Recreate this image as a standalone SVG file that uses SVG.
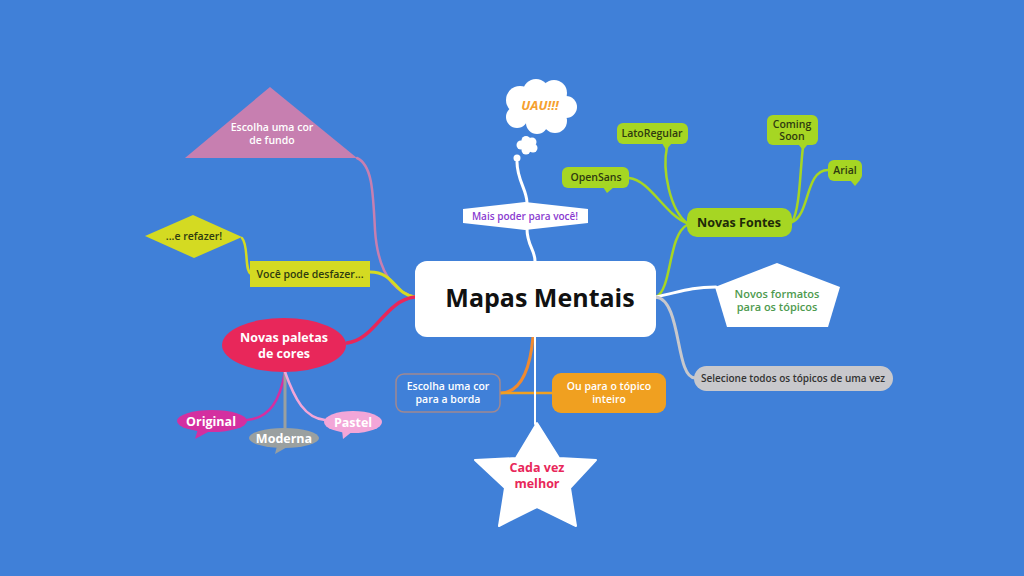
<svg xmlns="http://www.w3.org/2000/svg" width="1024" height="576" viewBox="0 0 1024 576">
<style>
text{font-family:"Open Sans","Noto Sans","Liberation Sans",sans-serif;text-anchor:middle}
.s{font-size:10.5px;font-weight:600}
.m{font-size:12.5px;font-weight:700}
.c{fill:none;stroke-linecap:round}
.g{fill:#a6d623}
.gl{stroke:#a6d623;stroke-width:2.5}
.dk{fill:#2e3a10}
</style>
<rect width="1024" height="576" fill="#4080d8"/>
<g id="connectors">
<path class="c" d="M357,158 C372,165 373,190 375,230 C378,275 395,292 415,297" stroke="#c77fb0" stroke-width="2.5"/>
<path class="c" d="M242,238 C249,246 244,270 251,274" stroke="#d4da22" stroke-width="2.5"/>
<path class="c" d="M370,272 C395,272 395,295 415,297" stroke="#d4da22" stroke-width="3"/>
<path class="c" d="M347,343 C375,340 385,300 415,297" stroke="#e8275a" stroke-width="3.5"/>
<path class="c" d="M517,162 C517,180 527,190 527,203" stroke="#ffffff" stroke-width="3"/>
<path class="c" d="M527,229 C527,245 535,250 535,261" stroke="#ffffff" stroke-width="3"/>
<path class="c gl" d="M656,297 C672,290 668,235 687,225" stroke-width="3"/>
<path class="c gl" d="M687,223 C665,215 650,180 629,178"/>
<path class="c gl" d="M687,223 C670,210 662,170 667,147"/>
<path class="c gl" d="M792,222 C800,210 800,170 803,147"/>
<path class="c gl" d="M792,222 C810,215 805,170 828,170"/>
<path class="c" d="M656,297 C680,292 690,287 716,287" stroke="#ffffff" stroke-width="3"/>
<path class="c" d="M656,297 C682,300 675,378 695,378" stroke="#c8c8cc" stroke-width="3"/>
<path class="c" d="M533,337 C530,370 520,393 500,393" stroke="#f08a30" stroke-width="3"/>
<path class="c" d="M500,393 L552,393" stroke="#f0a020" stroke-width="2.5"/>
<path class="c" d="M535,337 L535,424" stroke="#ffffff" stroke-width="2"/>
<path class="c" d="M285,372 C280,400 270,418 247,420" stroke="#d42fa0" stroke-width="2.5"/>
<path class="c" d="M285,372 L285,428" stroke="#9aa0a0" stroke-width="3"/>
<path class="c" d="M285,372 C295,400 305,418 325,420" stroke="#f3a6d8" stroke-width="2.5"/>
</g>
<g id="central">
<rect x="415" y="261" width="241" height="76" rx="12" fill="#ffffff"/>
<text x="540" y="307" font-size="25" font-weight="700" fill="#111">Mapas Mentais</text>
</g>
<g id="fundo">
<polygon points="270,87 357,158 185,158" fill="#c77fb0"/>
<text x="272" y="131" font-size="10.5" font-weight="600" fill="#fff">Escolha uma cor</text>
<text x="272" y="144" font-size="10.5" font-weight="600" fill="#fff">de fundo</text>
</g>
<g id="refazer">
<polygon points="145,236 193,215 242,237 194,258" fill="#d4da22"/>
<text class="s" x="194" y="240" fill="#2e3a10">...e refazer!</text>
</g>
<g id="desfazer">
<rect x="250" y="261" width="120" height="26" fill="#d4da22"/>
<text class="s" x="310" y="278" fill="#2e3a10">Você pode desfazer...</text>
</g>
<g id="paletas">
<ellipse cx="284" cy="345" rx="62" ry="27" fill="#e8275a"/>
<text class="m" x="284" y="342" fill="#fff">Novas paletas</text>
<text class="m" x="284" y="358" fill="#fff">de cores</text>
</g>
<g id="original">
<polygon points="198,429 210,431 195,439" fill="#d42fa0"/>
<ellipse cx="212" cy="421" rx="35" ry="11" fill="#d42fa0"/>
<text class="m" x="211" y="426" fill="#fff">Original</text>
</g>
<g id="moderna">
<polygon points="277,446 289,446 275,454" fill="#9aa0a0"/>
<ellipse cx="284" cy="438" rx="35" ry="10" fill="#9aa0a0"/>
<text class="m" x="284" y="443" fill="#fff">Moderna</text>
</g>
<g id="pastel">
<polygon points="342,430 353,431 343,439" fill="#f3a6d8"/>
<ellipse cx="353" cy="422" rx="29" ry="11" fill="#f3a6d8"/>
<text class="m" x="353" y="427" fill="#fff">Pastel</text>
</g>
<g id="uau" fill="#ffffff">
<circle cx="520" cy="100" r="14"/>
<circle cx="536" cy="92" r="13"/>
<circle cx="554" cy="93" r="13"/>
<circle cx="566" cy="107" r="11"/>
<circle cx="555" cy="121" r="12"/>
<circle cx="537" cy="123" r="11"/>
<circle cx="517" cy="117" r="11"/>
<circle cx="540" cy="107" r="20"/>
<circle cx="521" cy="145" r="4.5"/>
<circle cx="526" cy="140.5" r="4.5"/>
<circle cx="532" cy="142" r="4.5"/>
<circle cx="533" cy="148" r="4.5"/>
<circle cx="526" cy="150" r="4.5"/>
<circle cx="527" cy="145" r="5.5"/>
<circle cx="517" cy="158" r="3.5"/>
<text x="540" y="110" font-size="13" font-weight="700" font-style="italic" fill="#f5a030">UAU!!!</text>
</g>
<g id="poder">
<polygon points="463,209 525,202 588,209 588,223 525,230 463,223" fill="#ffffff"/>
<text x="525" y="220" font-size="10" font-weight="600" fill="#8a3bd0">Mais poder para você!</text>
</g>
<g id="fontes">
<rect class="g" x="687" y="208" width="105" height="29" rx="10"/>
<text class="m" x="739" y="227" fill="#1e2a08">Novas Fontes</text>
</g>
<g id="lato">
<rect class="g" x="617" y="123" width="71" height="21" rx="6"/>
<polygon class="g" points="662,143 672,143 666,150"/>
<text class="s dk" x="652" y="137">LatoRegular</text>
</g>
<g id="opensans">
<rect class="g" x="562" y="167" width="67" height="21" rx="6"/>
<polygon class="g" points="603,187 614,187 607,193"/>
<text class="s dk" x="596" y="181">OpenSans</text>
</g>
<g id="coming">
<rect class="g" x="767" y="115" width="51" height="30" rx="6"/>
<polygon class="g" points="798,144 808,144 803,150"/>
<text class="s dk" x="792" y="128">Coming</text>
<text class="s dk" x="792" y="140">Soon</text>
</g>
<g id="arial">
<rect class="g" x="828" y="160" width="34" height="21" rx="6"/>
<polygon class="g" points="850,180 860,180 855,186"/>
<text class="s dk" x="845" y="174">Arial</text>
</g>
<g id="formatos">
<polygon points="777,263 840,287 828,327 727,327 715,287" fill="#ffffff"/>
<text x="777" y="298" font-size="11" font-weight="600" fill="#4e9a4e">Novos formatos</text>
<text x="777" y="311" font-size="11" font-weight="600" fill="#4e9a4e">para os tópicos</text>
</g>
<g id="selecione">
<rect x="694" y="366" width="199" height="25" rx="12.5" fill="#c8c8cc"/>
<text x="793" y="382" font-size="10" font-weight="600" fill="#333">Selecione todos os tópicos de uma vez</text>
</g>
<g id="borda">
<rect x="396" y="374" width="104" height="38" rx="8" fill="#4080d8" stroke="#a08890" stroke-width="1.5"/>
<text class="s" x="448" y="390" fill="#fff">Escolha uma cor</text>
<text class="s" x="448" y="403" fill="#fff">para a borda</text>
</g>
<g id="inteiro">
<rect x="552" y="373" width="114" height="40" rx="9" fill="#f0a020"/>
<text class="s" x="609" y="390" fill="#fff">Ou para o tópico</text>
<text class="s" x="609" y="403" fill="#fff">inteiro</text>
</g>
<g id="melhor">
<polygon points="537,423 559,458 596,460 570,488 576,526 537,507 499,526 505,488 475,460 516,458" fill="#ffffff" stroke="#ffffff" stroke-width="2" stroke-linejoin="round"/>
<text class="m" x="537" y="472" font-size="13" fill="#e8275a">Cada vez</text>
<text class="m" x="537" y="488" font-size="13" fill="#e8275a">melhor</text>
</g>
</svg>
